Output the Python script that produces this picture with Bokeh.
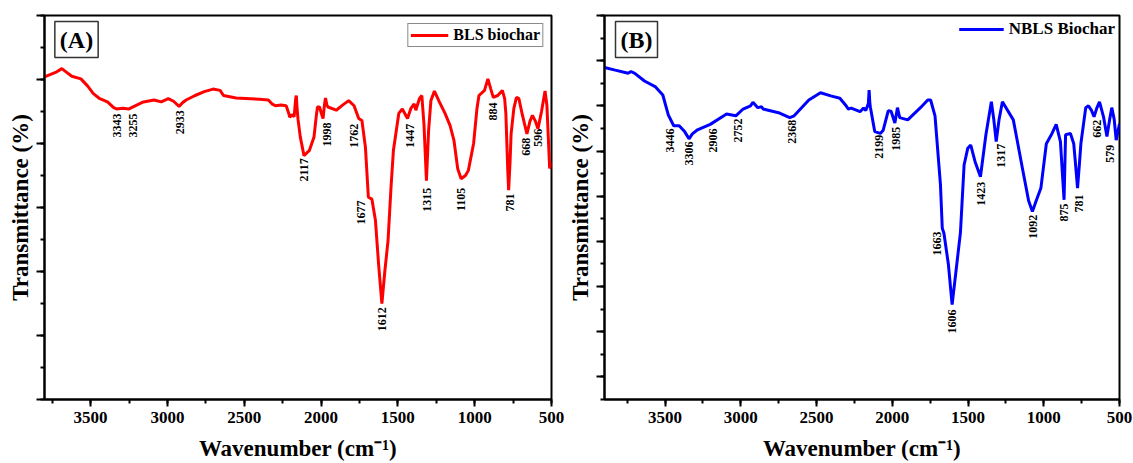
import numpy as np
from bokeh.plotting import figure
from bokeh.models import (Range1d, SingleIntervalTicker, Label, Legend,
                          LegendItem, ColumnDataSource, CustomJSTickFormatter)
from bokeh.layouts import row
from bokeh.embed import file_html
from bokeh.resources import INLINE
from bokeh.core.properties import value

FONT = "Liberation Serif"

# ---------------- data: BLS biochar (panel A) ----------------
bls_wn = [3800, 3760, 3720, 3687, 3660, 3622, 3563, 3520, 3482, 3440, 3390, 3350,
          3331, 3290, 3250, 3200, 3156, 3087, 3040, 2994, 2960, 2924, 2900, 2878,
          2820, 2760, 2703, 2657, 2635, 2553, 2459, 2400, 2343, 2320, 2297, 2260,
          2227, 2210, 2204, 2190, 2175, 2165, 2161, 2156, 2150, 2135, 2111, 2090,
          2076, 2046, 2030, 2023, 2010, 1995, 1987, 1978, 1971, 1962, 1955, 1901,
          1860, 1820, 1785, 1755, 1734, 1711, 1692, 1669, 1646, 1625, 1604, 1585,
          1564, 1545, 1529, 1494, 1471, 1437, 1415, 1394, 1383, 1360, 1344, 1330,
          1314, 1300, 1285, 1262, 1230, 1193, 1160, 1135, 1110, 1088, 1060, 1041,
          1007, 985, 972, 936, 914, 895, 879, 850, 820, 805, 797, 785, 779, 770,
          763, 745, 728, 712, 690, 660, 640, 624, 605, 588, 565, 542, 530, 512, 500]
bls_t = [5.04, 5.08, 5.12, 5.17, 5.12, 5.05, 5.01, 4.90, 4.78, 4.70, 4.65, 4.56,
         4.54, 4.55, 4.54, 4.60, 4.65, 4.68, 4.65, 4.70, 4.66, 4.58, 4.64, 4.68,
         4.75, 4.81, 4.85, 4.83, 4.75, 4.71, 4.70, 4.69, 4.68, 4.62, 4.59, 4.60,
         4.59, 4.47, 4.41, 4.45, 4.42, 4.70, 4.75, 4.55, 4.38, 4.10, 3.81, 3.86,
         3.89, 4.10, 4.45, 4.57, 4.57, 4.45, 4.39, 4.60, 4.71, 4.60, 4.57, 4.52,
         4.60, 4.67, 4.59, 4.39, 4.36, 3.94, 3.16, 3.13, 2.80, 2.10, 1.50, 2.00,
         2.48, 3.30, 3.89, 4.47, 4.54, 4.39, 4.55, 4.62, 4.52, 4.70, 4.75, 4.30,
         3.42, 4.20, 4.67, 4.82, 4.65, 4.47, 4.28, 4.05, 3.60, 3.45, 3.50, 3.58,
         4.00, 4.55, 4.75, 4.83, 5.01, 4.85, 4.72, 4.75, 4.83, 4.70, 4.47, 3.60,
         3.27, 3.70, 4.15, 4.55, 4.72, 4.70, 4.45, 4.15, 4.35, 4.44, 4.35, 4.23,
         4.50, 4.82, 4.60, 3.61, 3.70]
bls_labels = ["3343", "3255", "2933", "2117", "1998", "1762", "1677", "1612",
              "1447", "1315", "1105", "884", "781", "668", "596"]
bls_label_wn = [3331, 3227, 2915, 2114, 1958, 1785, 1739, 1604, 1424, 1309,
                1087, 878, 773, 669, 588]
bls_label_top = [4.47, 4.47, 4.52, 3.77, 4.33, 4.31, 3.11, 1.44, 4.31, 3.31,
                 3.31, 4.64, 3.22, 4.09, 4.23]

# ---------------- data: NBLS Biochar (panel B) ----------------
nbls_wn = [3900, 3829, 3744, 3725, 3700, 3636, 3563, 3515, 3479, 3443, 3407, 3371,
           3342, 3320, 3286, 3202, 3094, 3033, 2985, 2936, 2920, 2888, 2863, 2853,
           2744, 2677, 2648, 2551, 2474, 2406, 2346, 2309, 2290, 2271, 2213, 2190,
           2175, 2158, 2153, 2148, 2144, 2116, 2079, 2060, 2027, 2008, 1983, 1966,
           1951, 1898, 1814, 1766, 1747, 1718, 1682, 1670, 1659, 1630, 1605, 1574,
           1550, 1526, 1502, 1482, 1454, 1418, 1382, 1346, 1330, 1314, 1295, 1273,
           1201, 1141, 1100, 1075, 1050, 1019, 983, 950, 918, 890, 875, 866, 856,
           824, 802, 790, 777, 765, 755, 723, 705, 685, 668, 650, 632, 605, 583,
           565, 551, 535, 522, 500]
nbls_t = [6.85, 6.79, 6.72, 6.76, 6.72, 6.55, 6.42, 6.24, 5.80, 5.56, 5.56, 5.43,
          5.27, 5.38, 5.47, 5.59, 5.82, 5.78, 5.93, 6.00, 6.08, 5.96, 5.98, 5.93,
          5.84, 5.74, 5.78, 6.13, 6.29, 6.22, 6.17, 6.02, 5.93, 5.95, 5.87, 5.95,
          5.90, 6.05, 6.35, 6.05, 5.96, 5.43, 5.39, 5.46, 5.89, 5.88, 5.62, 5.96,
          5.74, 5.69, 5.96, 6.13, 6.13, 5.78, 4.25, 3.29, 3.18, 2.50, 1.60, 2.50,
          3.20, 4.69, 5.06, 5.13, 4.77, 4.43, 5.36, 6.09, 5.70, 5.21, 5.70, 6.09,
          5.69, 4.62, 3.90, 3.66, 3.90, 4.18, 5.16, 5.36, 5.59, 5.21, 4.40, 3.92,
          5.36, 5.39, 5.16, 4.70, 4.18, 4.70, 5.16, 5.96, 6.00, 5.90, 5.76, 5.95,
          6.09, 5.75, 5.32, 5.70, 5.96, 5.70, 5.24, 5.60]
nbls_labels = ["3446", "3306", "2906", "2752", "2368", "2199", "1985", "1663",
               "1606", "1423", "1317", "1092", "875", "781", "662", "579"]
nbls_label_wn = [3467, 3341, 3182, 3021, 2659, 2087, 1976, 1706, 1604, 1416,
                 1284, 1068, 866, 765, 649, 566]
nbls_label_top = [5.50, 5.21, 5.50, 5.72, 5.69, 5.36, 5.54, 3.22, 1.49, 4.32,
                  5.16, 3.59, 3.84, 4.04, 5.69, 5.14]

x_tick_interval = 500


def make_panel(wn, tr, color, legend_text, tag, lab_text, lab_wn, lab_top,
               xr, yr, frame_w, mb_left, mb_right, legend_border):
    p = figure(frame_width=frame_w, frame_height=384,
               x_range=Range1d(*xr), y_range=Range1d(*yr),
               output_backend="svg", toolbar_location=None,
               min_border_left=mb_left, min_border_right=mb_right,
               min_border_top=15, min_border_bottom=64,
               background_fill_color="white", border_fill_color="white")
    p.grid.visible = False
    p.outline_line_color = "black"
    p.outline_line_width = 2
    p.outline_line_alpha = 1

    # x axis
    xa = p.xaxis[0]
    xa.ticker = SingleIntervalTicker(interval=x_tick_interval, num_minor_ticks=2)
    xa.axis_label = "Wavenumber (cm\u207b\u00b9)"
    xa.axis_label_text_font = FONT
    xa.axis_label_text_font_style = "bold"
    xa.axis_label_text_font_size = "23px"
    xa.axis_label_text_color = "black"
    xa.axis_label_standoff = 10
    xa.major_label_text_font = FONT
    xa.major_label_text_font_style = "bold"
    xa.major_label_text_font_size = "17px"
    xa.major_label_text_color = "black"
    xa.major_label_standoff = 5
    xa.axis_line_width = 2
    xa.major_tick_line_width = 2
    xa.minor_tick_line_width = 2
    xa.major_tick_out = 7
    xa.major_tick_in = 0
    xa.minor_tick_out = 4
    xa.minor_tick_in = 0

    # y axis (ticks without numbers)
    ya = p.yaxis[0]
    ya.ticker = SingleIntervalTicker(interval=1, num_minor_ticks=2)
    ya.formatter = CustomJSTickFormatter(code="return ''")
    ya.axis_label = "Transmittance (%)"
    ya.axis_label_text_font = FONT
    ya.axis_label_text_font_style = "bold"
    ya.axis_label_text_font_size = "23px"
    ya.axis_label_text_color = "black"
    ya.axis_label_standoff = 4
    ya.major_label_standoff = 0
    ya.axis_line_width = 2
    ya.major_tick_line_width = 2
    ya.minor_tick_line_width = 2
    ya.major_tick_out = 8
    ya.major_tick_in = 0
    ya.minor_tick_out = 4
    ya.minor_tick_in = 0

    r = p.line(wn, tr, line_color=color, line_width=3)

    src = ColumnDataSource(dict(x=lab_wn, y=lab_top, t=lab_text))
    p.text(x="x", y="y", text="t", source=src, angle=np.pi / 2,
           text_align="right", text_baseline="middle",
           text_font=value(FONT), text_font_style="bold",
           text_font_size="12px", text_color="black")

    leg = Legend(items=[LegendItem(label=legend_text, renderers=[r])],
                 location="top_right")
    leg.label_text_font = FONT
    leg.label_text_font_style = "bold"
    leg.label_text_font_size = "16px" if legend_border else "17px"
    leg.label_text_color = "black"
    leg.glyph_width = 38 if legend_border else 45
    leg.glyph_height = 18
    leg.label_standoff = 5
    leg.padding = 2
    leg.spacing = 0
    leg.margin = 8 if legend_border else 4
    if legend_border:
        leg.border_line_color = "#8a8a8a"
        leg.border_line_width = 1
        leg.border_line_alpha = 1
    else:
        leg.border_line_color = None
    leg.background_fill_color = "white"
    leg.background_fill_alpha = 1
    p.add_layout(leg)

    p.add_layout(Label(x=32, y=360, x_units="screen", y_units="screen",
                       text=tag, text_align="center", text_baseline="middle",
                       text_font=FONT, text_font_style="bold",
                       text_font_size="24px", text_color="black",
                       border_line_color="#333333", border_line_width=1.5,
                       background_fill_color="white", padding=5))
    return p


p1 = make_panel(bls_wn, bls_t, "#ff0000", "BLS biochar", "(A)",
                bls_labels, bls_label_wn, bls_label_top,
                (3800, 500), (0, 6), 507, 44, 13, True)
p2 = make_panel(nbls_wn, nbls_t, "#0000ff", "NBLS Biochar", "(B)",
                nbls_labels, nbls_label_wn, nbls_label_top,
                (3900, 500), (-0.5, 8), 515, 40, 14, False)

layout = row(p1, p2)
open("out.html", "w").write(file_html(layout, INLINE))
